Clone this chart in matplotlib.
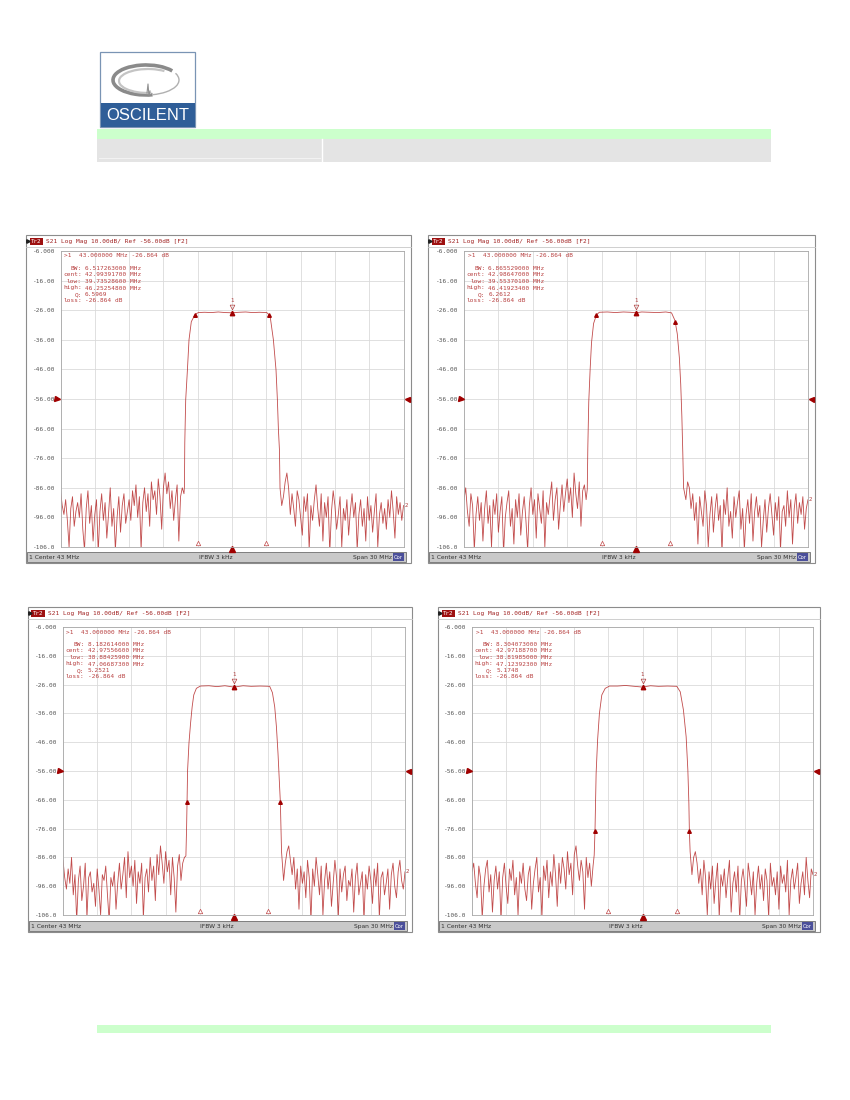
import numpy as np
import matplotlib
matplotlib.use("Agg")
import matplotlib.pyplot as plt
from matplotlib.patches import Rectangle, Arc
from matplotlib.transforms import blended_transform_factory

# ---------------- data ----------------
START_MHZ, STOP_MHZ, CENTER_MHZ = 28.0, 58.0, 43.0
NOISE_STEP_MHZ = 0.15
REF_LEVEL_DB = -56.0
MARKER1_MHZ, MARKER1_DB = 43.0, -26.864
stimulus_markers_mhz = [40.0, 46.0]

y_ticks = [-6, -16, -26, -36, -46, -56, -66, -76, -86, -96, -106]
y_tick_labels = ["-6.000", "-16.00", "-26.00", "-36.00", "-46.00", "-56.00",
                 "-66.00", "-76.00", "-86.00", "-96.00", "-106.0"]

header_text = "S21 Log Mag 10.00dB/ Ref -56.00dB [F2]"
status_left, status_mid, status_right = "1 Center 43 MHz", "IFBW 3 kHz", "Span 30 MHz"

# chart 1 (top-left)
c1_left_noise = [-87, -92, -95, -90, -97, -106, -93, -89, -99, -94, -91,
                 -96, -88, -100, -107, -93, -87, -98, -92, -104, -95,
                 -90, -108, -94, -88, -97, -91, -103, -95, -86, -99,
                 -93, -107, -96, -89, -101, -92, -88, -98, -94, -90,
                 -97, -87, -92, -85, -96, -89, -107, -91, -86, -94,
                 -88, -99, -84, -90, -87, -95, -83, -89, -100, -86,
                 -81, -88, -84, -93, -87, -97, -90, -85, -104, -89, -86]
c1_edge_mhz = [38.8, 38.84, 38.87, 38.95, 39.1, 39.24, 39.44, 39.77, 40.06, 40.6, 41.2,
               41.8, 42.4, 43.0, 43.6, 44.2, 44.8, 45.4, 46.04, 46.33, 46.62, 46.85,
               46.97, 47.06, 47.15, 47.2]
c1_edge_db = [-88, -85.6, -70.9, -56.3, -46.2, -36.0, -29.9, -27.4, -26.8, -26.7, -26.8,
              -26.6, -26.8, -26.864, -26.7, -26.6, -26.8, -26.7, -26.8, -27.9, -36.0, -46.2,
              -56.3, -66.4, -73.2, -86.0]
c1_right_noise = [-92, -89, -84, -81, -86, -95, -88, -93, -99, -87, -90,
                  -96, -102, -89, -94, -88, -107, -92, -97, -90, -85,
                  -93, -99, -88, -104, -91, -96, -89, -108, -94, -87,
                  -92, -100, -95, -89, -106, -93, -97, -90, -102, -94,
                  -88, -96, -91, -107, -95, -90, -99, -93, -104, -89,
                  -97, -92, -101, -94, -88, -106, -95, -91, -98, -93,
                  -100, -90, -96, -87, -94, -103, -89, -95, -91, -97, -92]
c1_readout = ["6.517263000 MHz", "42.99391700 MHz", "39.73528600 MHz",
              "46.25254800 MHz", "6.5969", "-26.864 dB"]
c1_low_high = [39.735286, 46.252548]

# chart 2 (top-right)
c2_left_noise = [-90, -86, -94, -99, -88, -92, -107, -95, -89, -97,
                 -91, -104, -93, -87, -98, -92, -106, -90, -95, -88,
                 -101, -94, -89, -108, -96, -91, -87, -99, -93, -105,
                 -90, -96, -88, -102, -94, -89, -97, -107, -92, -86,
                 -95, -90, -103, -88, -93, -98, -87, -106, -91, -95,
                 -89, -84, -97, -90, -86, -100, -92, -85, -94, -88,
                 -83, -91, -86, -96, -81, -88, -93, -84, -99, -87, -85, -90]
c2_edge_mhz = [38.75, 38.8, 38.88, 39.0, 39.12, 39.3, 39.55, 39.8, 40.5, 41.2, 41.9,
               42.5, 43.0, 43.5, 44.2, 44.9, 45.6, 46.1, 46.4, 46.6, 46.78, 46.9,
               47.0, 47.08, 47.15]
c2_edge_db = [-86.5, -72, -57, -46, -37, -30.5, -27.6, -26.7, -26.6, -26.8, -26.6,
              -26.7, -26.864, -26.6, -26.7, -26.8, -26.6, -26.9, -29.5, -34, -42, -51,
              -62, -74, -86]
c2_right_noise = [-90, -84, -86, -93, -88, -97, -91, -105, -89, -94,
                  -99, -87, -92, -106, -95, -89, -101, -93, -88, -97,
                  -92, -108, -90, -95, -86, -99, -94, -103, -89, -96,
                  -91, -87, -100, -93, -107, -95, -90, -98, -88, -104,
                  -94, -89, -96, -92, -106, -97, -90, -101, -93, -88,
                  -95, -102, -91, -97, -89, -107, -94, -92, -99, -87,
                  -96, -90, -105, -93, -88, -98, -91, -95, -89, -100, -93, -90]
c2_readout = ["6.865529000 MHz", "42.98647000 MHz", "39.55370100 MHz",
              "46.41923400 MHz", "6.2612", "-26.864 dB"]
c2_low_high = [39.553701, 46.419234]

# chart 3 (bottom-left)
c3_left_noise = [-87, -93, -97, -90, -95, -86, -99, -92, -108, -94,
                 -89, -101, -96, -88, -107, -93, -91, -98, -95, -103,
                 -90, -97, -106, -92, -94, -89, -99, -108, -93, -96,
                 -91, -104, -95, -88, -97, -92, -86, -100, -84, -93,
                 -89, -96, -87, -102, -91, -95, -88, -107, -93, -90,
                 -98, -86, -94, -89, -101, -85, -92, -82, -88, -95,
                 -84, -91, -87, -99, -86, -93, -105, -89, -85, -94, -88, -86]
c3_edge_mhz = [38.78, 38.84, 38.884, 38.93, 39.05, 39.19, 39.33, 39.47, 39.7, 40.05, 40.8,
               41.5, 42.2, 43.0, 43.8, 44.5, 45.3, 46.13, 46.37, 46.57, 46.72, 46.86,
               46.97, 47.067, 47.12, 47.17]
c3_edge_db = [-85.5, -76, -66.9, -55.7, -46.3, -39.4, -33.7, -29.6, -27.3, -26.5, -26.4,
              -26.7, -26.4, -26.864, -26.4, -26.6, -26.5, -26.6, -28.8, -33.7, -40.6, -49.9,
              -59.1, -66.9, -76, -84]
c3_right_noise = [-94, -88, -84, -82, -87, -92, -86, -97, -90, -104,
                  -89, -95, -91, -100, -87, -93, -108, -90, -96, -86,
                  -92, -99, -89, -106, -94, -88, -97, -91, -103, -95,
                  -87, -93, -107, -90, -98, -92, -89, -101, -94, -96,
                  -90, -105, -93, -88, -99, -95, -91, -108, -92, -97,
                  -89, -94, -102, -90, -96, -88, -107, -93, -91, -99,
                  -95, -90, -104, -92, -88, -96, -100, -91, -87, -94, -97, -91]
c3_readout = ["8.182614000 MHz", "42.97556600 MHz", "38.88425900 MHz",
              "47.06687300 MHz", "5.2521", "-26.864 dB"]
c3_low_high = [38.884259, 47.066873]

# chart 4 (bottom-right)
c4_left_noise = [-91, -88, -95, -100, -89, -93, -107, -96, -90, -87,
                 -98, -92, -105, -94, -89, -97, -91, -108, -93, -88,
                 -96, -102, -90, -94, -87, -99, -93, -106, -91, -95,
                 -88, -97, -101, -92, -89, -104, -95, -90, -86, -98,
                 -93, -107, -89, -94, -87, -100, -91, -96, -85, -92,
                 -103, -88, -95, -86, -90, -97, -84, -92, -88, -99,
                 -85, -82, -89, -94, -87, -91, -104, -86, -93, -88, -96, -89]
c4_edge_mhz = [38.75, 38.82, 38.86, 38.92, 39.05, 39.21, 39.42, 39.72, 40.1, 40.8, 41.5,
               42.3, 43.0, 43.7, 44.4, 45.2, 46.02, 46.32, 46.6, 46.84, 46.99, 47.08,
               47.124, 47.19]
c4_edge_db = [-85.2, -76.9, -68, -56.8, -45.2, -36.0, -29.6, -27.3, -26.5, -26.5, -26.3,
              -26.6, -26.864, -26.4, -26.6, -26.5, -26.6, -28.5, -34.8, -44.1, -55.7, -67.2,
              -76.9, -84]
c4_right_noise = [-92, -86, -84, -88, -95, -90, -99, -87, -93, -106,
                  -91, -97, -89, -102, -94, -88, -107, -92, -96, -90,
                  -100, -93, -87, -105, -95, -91, -98, -89, -108, -94,
                  -90, -96, -103, -88, -93, -99, -91, -106, -95, -89,
                  -97, -92, -101, -90, -94, -107, -88, -96, -93, -99,
                  -91, -104, -89, -95, -92, -98, -87, -106, -94, -90,
                  -97, -93, -88, -102, -95, -91, -99, -86, -94, -100, -90, -92]
c4_readout = ["8.304073000 MHz", "42.97188700 MHz", "38.81985000 MHz",
              "47.12392300 MHz", "5.1748", "-26.864 dB"]
c4_low_high = [38.81985, 47.123923]

readout_labels = ["BW:", "cent:", "low:", "high:", "Q:", "loss:"]
marker_line = ">1  43.000000 MHz -26.864 dB"

# ---------------- figure ----------------
W, H = 850, 1100
fig = plt.figure(figsize=(8.5, 11), dpi=100)
fig.patch.set_facecolor("white")

MONO = "DejaVu Sans Mono"
RED = "#a00000"
TXT_RED = "#b84040"


def fx(x):
    return x / W


def fy(y):
    return 1 - y / H


def rect(x0, y0, x1, y1, zorder=1, **kw):
    fig.patches.append(Rectangle((fx(x0), fy(y1)), (x1 - x0) / W, (y1 - y0) / H,
                                 transform=fig.transFigure, zorder=zorder, **kw))


def ftext(x, y, s, **kw):
    fig.text(fx(x), fy(y), s, zorder=5, **kw)


# ----- page header (logo + bars) -----
rect(100, 52, 195, 127, facecolor="white", edgecolor="#7a94b4", lw=0.9)
rect(101, 103, 194.5, 126.5, facecolor="#2f5e98", edgecolor="none")
ftext(147.5, 115.5, "OSCILENT", color="white", fontsize=12, family="Liberation Sans",
      ha="center", va="center")
fig.patches.append(Arc((fx(146), fy(80)), 66 / W, 30 / H, theta1=15, theta2=300,
                       transform=fig.transFigure, color="#8a8a8a", lw=2.6))
fig.patches.append(Arc((fx(148), fy(81)), 58 / W, 24 / H, theta1=25, theta2=290,
                       transform=fig.transFigure, color="#c4c4c4", lw=1.6))
fig.patches.append(Arc((fx(146), fy(80)), 66 / W, 30 / H, theta1=300, theta2=370,
                       transform=fig.transFigure, color="#b0b0b0", lw=1.0))
fig.lines.append(plt.Line2D([fx(147), fx(148), fx(149), fx(150)],
                            [fy(93), fy(84), fy(96), fy(91)],
                            transform=fig.transFigure, color="#909090", lw=0.8))

rect(97, 129, 771, 139, facecolor="#ccffcc", edgecolor="none")
rect(97, 139, 771, 162, facecolor="#e4e4e4", edgecolor="none")
fig.lines.append(plt.Line2D([fx(322), fx(322)], [fy(139), fy(162)],
                            transform=fig.transFigure, color="white", lw=1.0))
fig.lines.append(plt.Line2D([fx(99), fx(320)], [fy(158), fy(158)],
                            transform=fig.transFigure, color="#f2f2f2", lw=0.8))
rect(97, 1025, 771, 1033, facecolor="#ccffcc", edgecolor="none")


def draw_panel(outer, plot, left_noise, edge_mhz, edge_db, right_noise, readout, low_high):
    x0, y0, x1, y1 = outer
    px0, py0, px1, py1 = plot

    # frame (behind axes)
    rect(x0, y0, x1, y1, zorder=-2, facecolor="white", edgecolor="#8c8c8c", lw=0.8)
    fig.lines.append(plt.Line2D([fx(x0), fx(x1)], [fy(y0 + 12), fy(y0 + 12)],
                                transform=fig.transFigure, color="#c8c8c8", lw=0.6,
                                zorder=-1))
    # header
    fig.lines.append(plt.Line2D([fx(x0 + 2.2)], [fy(y0 + 6.3)], marker=">", ms=2.5,
                                color="#202020", transform=fig.transFigure, zorder=3))
    rect(x0 + 3.5, y0 + 3, x0 + 17, y0 + 9.5, facecolor="#9e1010", edgecolor="none")
    ftext(x0 + 10.5, y0 + 6.3, "Tr2", color="white", fontsize=4.2, family=MONO,
          ha="center", va="center")
    ftext(x0 + 20, y0 + 6.3, header_text, color="#a02020", fontsize=4.4, family=MONO,
          ha="left", va="center")
    # status bar
    sb0, sb1 = y1 - 11.5, y1 - 1
    rect(x0 + 1, sb0, x1 - 5, sb1, facecolor="#c9c9c9", edgecolor="#6e6e6e", lw=0.6)
    sy = (sb0 + sb1) / 2 + 0.3
    ftext(x0 + 3, sy, status_left, fontsize=4.3, color="#303030", ha="left", va="center")
    ftext((x0 + x1) / 2 - 3, sy, status_mid, fontsize=4.3, color="#303030",
          ha="center", va="center")
    ftext(x1 - 19, sy, status_right, fontsize=4.3, color="#303030", ha="right", va="center")
    rect(x1 - 18, sb0 + 1.5, x1 - 7, sb1 - 1.5, facecolor="#4b4f9a", edgecolor="none")
    ftext(x1 - 12.5, sy, "Cor", fontsize=3.8, color="white", ha="center", va="center")

    # trace
    lf = START_MHZ + NOISE_STEP_MHZ * np.arange(len(left_noise))
    rf = STOP_MHZ - NOISE_STEP_MHZ * np.arange(len(right_noise))[::-1]
    f = np.concatenate([lf, np.array(edge_mhz), rf])
    db = np.concatenate([np.array(left_noise, float), np.array(edge_db, float),
                         np.array(right_noise, float)])

    ax = fig.add_axes([fx(px0), fy(py1), (px1 - px0) / W, (py1 - py0) / H])
    ax.set_zorder(2)
    ax.patch.set_facecolor("white")
    ax.set_xlim(START_MHZ, STOP_MHZ)
    ax.set_ylim(-106, -6)
    ax.set_xticks(np.linspace(START_MHZ, STOP_MHZ, 11))
    ax.set_xticklabels([])
    ax.set_yticks(y_ticks)
    ax.set_yticklabels(y_tick_labels, fontsize=4.4, family=MONO, color="#555555")
    ax.tick_params(length=0, pad=4.0)
    ax.grid(color="#dadada", lw=0.6)
    ax.set_axisbelow(True)
    for s in ax.spines.values():
        s.set_color("#a8a8a8")
        s.set_linewidth(0.6)

    ax.plot(f, db, color="#b01818", lw=0.6, alpha=0.78)

    # bandwidth markers on trace
    mk_db = np.interp(low_high, f, db)
    ax.plot(low_high, mk_db, ls="none", marker="^", ms=2.6, color=RED)
    # marker 1
    ax.plot([MARKER1_MHZ], [MARKER1_DB], ls="none", marker="^", ms=3.2, color=RED)
    ax.plot([MARKER1_MHZ], [MARKER1_DB + 2.0], ls="none", marker="v", ms=3.4,
            mfc="none", mec="#b04040", mew=0.5)
    ax.text(MARKER1_MHZ, MARKER1_DB + 4.3, "1", fontsize=4.2, family=MONO,
            color="#b04040", ha="center", va="center")
    # stimulus markers on bottom
    ax.plot(stimulus_markers_mhz, [-104.6] * len(stimulus_markers_mhz), ls="none",
            marker="^", ms=3.2, mfc="white", mec="#c04848", mew=0.5)
    ax.plot([CENTER_MHZ], [-106.6], ls="none", marker="^", ms=4.2, color=RED, clip_on=False)
    # reference level arrows
    tr = blended_transform_factory(ax.transAxes, ax.transData)
    ax.plot([-0.009], [REF_LEVEL_DB], marker=">", ms=3.6, color=RED, transform=tr,
            clip_on=False, zorder=5)
    ax.plot([1.009], [REF_LEVEL_DB], marker="<", ms=3.6, color=RED, transform=tr,
            clip_on=False, zorder=5)
    ax.text(1.002, db[-1], "2", fontsize=4, color="#b04040", transform=tr,
            ha="left", va="center", clip_on=False)

    # readout
    ftext(px0 + 3.5, py0 + 5, marker_line, fontsize=4.4, family=MONO, color=TXT_RED,
          ha="left", va="center")
    for i, (lab, val) in enumerate(zip(readout_labels, readout)):
        yy = py0 + 17.5 + i * 6.5
        ftext(px0 + 21.3, yy, lab, fontsize=4.4, family=MONO, color=TXT_RED,
              ha="right", va="center")
        ftext(px0 + 24.5, yy, val, fontsize=4.4, family=MONO, color=TXT_RED,
              ha="left", va="center")


draw_panel((26, 235, 411, 563), (60.5, 251, 403.5, 547),
           c1_left_noise, c1_edge_mhz, c1_edge_db, c1_right_noise, c1_readout, c1_low_high)
draw_panel((428, 235, 815, 563), (464, 251, 808, 547),
           c2_left_noise, c2_edge_mhz, c2_edge_db, c2_right_noise, c2_readout, c2_low_high)
draw_panel((28, 607, 412, 932), (63, 627, 405, 915),
           c3_left_noise, c3_edge_mhz, c3_edge_db, c3_right_noise, c3_readout, c3_low_high)
draw_panel((438, 607, 820, 932), (472, 627, 813, 915),
           c4_left_noise, c4_edge_mhz, c4_edge_db, c4_right_noise, c4_readout, c4_low_high)

fig.savefig("out.png", dpi=100, facecolor="white")
